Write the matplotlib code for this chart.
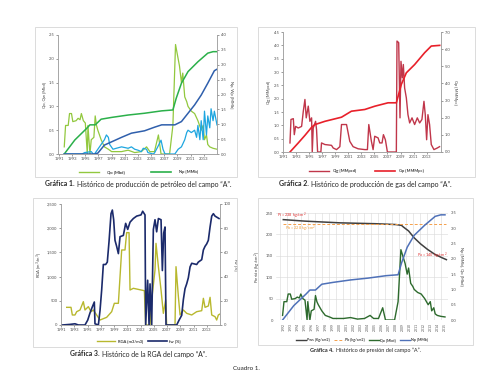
import numpy as np
import matplotlib
matplotlib.use("Agg")
from matplotlib import pyplot as plt
from matplotlib.patches import Rectangle
from matplotlib.lines import Line2D

plt.rcParams['font.family'] = ['Lato', 'DejaVu Sans']

# ---- Grafica 1: produccion de petroleo ----
qo_t = [1991.8, 1992.0, 1992.4, 1992.6, 1992.9, 1993.1, 1993.6, 1993.9, 1994.2, 1994.4,
        1994.7, 1995.0, 1995.3, 1995.4, 1995.7, 1995.9, 1996.3, 1996.5, 1996.7, 1996.9,
        1997.4, 1997.9, 1998.5, 1999.0, 2000.5, 2001.5, 2002.5, 2003.5, 2004.3, 2004.8,
        2005.5, 2006.1, 2006.5, 2007.8, 2008.3, 2008.7, 2009.1, 2009.3, 2009.6, 2009.8,
        2010.1, 2010.4, 2010.6, 2011.1, 2011.6, 2012.1, 2012.6, 2012.9, 2013.1, 2013.4,
        2013.6, 2013.9, 2014.4, 2015.0]
qo = [0.15, 0.6, 0.6, 0.85, 0.85, 0.68, 0.7, 0.75, 0.72, 0.85,
      0.7, 0.65, 0.0, 0.6, 0.0, 0.3, 0.35, 0.8, 0.6, 0.5,
      0.3, 0.15, 0.1, 0.05, 0.05, 0.08, 0.03, 0.05, 0.15, 0.05,
      0.05, 0.4, 0.0, 0.0, 0.6, 2.3, 2.0, 1.85, 1.5, 1.7,
      1.2, 1.1, 1.0, 0.9, 0.85, 0.7, 0.5, 0.6, 0.3, 0.4,
      0.2, 0.15, 0.12, 0.1]

qw_t = [1991.8, 1994.5, 1994.9, 1995.9, 1996.2, 1996.4, 1996.9, 1997.4, 1997.9, 1998.2,
        1998.5, 1998.7, 1999.2, 1999.7, 2000.5, 2001.5, 2002.0, 2002.5, 2003.0, 2003.5,
        2003.8, 2004.3, 2004.5, 2005.3, 2005.5, 2006.0, 2006.5, 2006.8, 2007.1, 2008.6,
        2009.1, 2009.6, 2010.1, 2010.4, 2010.6, 2011.1, 2011.6, 2011.9, 2012.1, 2012.4,
        2012.6, 2012.9, 2013.1, 2013.4, 2013.6, 2013.9, 2014.1, 2014.4, 2014.6, 2015.0]
qw = [0.0, 0.0, 0.03, 0.05, 0.0, 0.0, 0.1, 0.2, 0.3, 0.4,
      0.35, 0.2, 0.1, 0.12, 0.15, 0.12, 0.15, 0.1, 0.08, 0.05,
      0.12, 0.1, 0.03, 0.0, 0.02, 0.15, 0.29, 0.1, 0.0, 0.0,
      0.1, 0.15, 0.3, 0.45, 0.5, 0.45, 0.5, 0.35, 0.6, 0.3,
      0.7, 0.3, 0.9, 0.4, 0.8, 0.55, 0.95, 0.7, 0.9, 0.61]

np_t = [1991.8, 1993.4, 1995.2, 1995.7, 1996.5, 1997.4, 1999.0, 2001.5, 2004.0, 2006.6,
        2008.3, 2008.8, 2009.6, 2010.6, 2012.1, 2013.6, 2014.4, 2015.0]
np_v = [0.0, 0.47, 0.86, 0.98, 0.98, 1.17, 1.23, 1.31, 1.37, 1.45,
        1.48, 1.87, 2.38, 2.77, 3.1, 3.39, 3.44, 3.44]

wp_t = [1991.8, 1996.4, 1996.9, 1997.9, 1999.0, 2000.5, 2002.0, 2004.0, 2005.5, 2006.6,
        2008.6, 2009.6, 2010.6, 2011.6, 2012.6, 2013.6, 2014.6, 2015.0]
wp = [0.0, 0.0, 0.03, 0.3, 0.41, 0.56, 0.7, 0.78, 0.9, 0.98,
      0.98, 1.09, 1.37, 1.65, 1.98, 2.38, 2.8, 2.85]

# ---- Grafica 2: produccion de gas ----
qg_t = [1992.07, 1992.22, 1992.58, 1992.73, 1992.93, 1993.34, 1993.85, 1994.11, 1994.36, 1994.56,
        1994.87, 1995.12, 1995.38, 1995.48, 1995.63, 1995.99, 1996.14, 1996.30, 1996.80, 1996.90,
        1997.42, 1998.43, 1998.69, 1999.20, 1999.71, 1999.96, 2000.73, 2001.23, 2001.74, 2002.51,
        2003.53, 2003.93, 2004.14, 2004.54, 2004.80, 2005.05, 2005.56, 2005.82, 2006.17, 2006.38,
        2006.68, 2006.99, 2008.36, 2008.46, 2008.72, 2008.92, 2009.07, 2009.28, 2009.43, 2009.63,
        2009.89, 2010.14, 2010.40, 2010.76, 2011.16, 2011.57, 2011.93, 2012.28, 2012.59, 2012.79,
        2013.00, 2013.20, 2013.45, 2013.71, 2014.12, 2014.63, 2014.98]
qg = [0.34, 1.22, 1.25, 0.65, 0.96, 0.9, 0.96, 1.53, 1.97, 1.28,
      1.72, 1.15, 1.28, 0.0, 0.9, 1.15, 0.84, 0.0, 0.0, 0.34,
      0.28, 0.25, 0.15, 0.09, 0.2, 1.03, 1.03, 0.4, 0.2, 0.12,
      0.09, 0.09, 1.03, 0.4, 0.09, 0.59, 0.53, 0.34, 0.34, 0.65,
      0.46, 0.0, 0.0, 4.16, 4.1, 1.28, 3.4, 2.78, 3.28, 2.4,
      2.03, 1.4, 1.09, 1.28, 1.03, 1.28, 1.09, 1.22, 1.9, 1.4,
      0.46, 1.4, 1.03, 0.28, 0.09, 0.15, 0.2]

gp_t = [1992.07, 1993.34, 1994.36, 1995.38, 1995.89, 1997.42, 1999.96, 2001.48, 2003.53, 2005.05,
        2007.09, 2008.36, 2009.12, 2009.89, 2011.16, 2012.69, 2013.71, 2015.0]
gp = [0.0, 0.53, 0.97, 1.44, 1.6, 1.79, 2.03, 2.38, 2.48, 2.67,
      2.87, 2.87, 3.94, 4.62, 5.1, 5.79, 6.18, 6.22]

# ---- Grafica 3: RGA y fw ----
rga_t = [1991.86, 1992.51, 1992.71, 1993.11, 1993.37, 1993.87, 1994.37, 1994.62, 1995.13, 1995.53,
         1995.88, 1996.38, 1996.89, 1997.14, 1997.89, 1998.65, 1999.05, 1999.66, 2000.16, 2000.66,
         2000.91, 2001.27, 2001.42, 2001.92, 2003.58, 2003.78, 2004.44, 2004.69, 2005.19, 2005.34,
         2005.70, 2006.10, 2006.45, 2006.80, 2006.95, 2008.21, 2008.36, 2008.72, 2008.97, 2009.47,
         2009.97, 2010.73, 2011.48, 2012.24, 2012.49, 2012.74, 2013.24, 2013.50, 2013.75, 2014.25,
         2014.50, 2014.75, 2015.0]
rga = [365, 365, 207, 207, 275, 310, 482, 310, 379, 275,
       310, 207, 103, 117, 158, 275, 448, 448, 1550, 1550,
       1908, 1908, 723, 758, 709, 0, 0, 517, 1136, 1687,
       1205, 723, 241, 517, 0, 0, 1205, 585, 207, 310,
       241, 207, 275, 296, 551, 365, 393, 572, 207, 172,
       103, 207, 227]

fw_t = [1991.2, 1992.36, 1993.11, 1993.62, 1994.62, 1995.03, 1995.38, 1995.73, 1996.03, 1996.13,
        1996.64, 1996.89, 1997.14, 1997.39, 1997.74, 1997.99, 1998.25, 1998.55, 1998.75, 1998.95,
        1999.15, 1999.40, 1999.66, 1999.91, 2000.41, 2000.76, 2001.07, 2001.42, 2001.92, 2002.42,
        2003.08, 2003.33, 2003.68, 2003.78, 2004.08, 2004.29, 2004.44, 2004.69, 2004.94, 2005.19,
        2005.44, 2005.70, 2006.10, 2006.30, 2006.50, 2006.70, 2006.85, 2008.46, 2008.82, 2009.22,
        2009.47, 2009.72, 2009.97, 2010.22, 2010.48, 2010.73, 2011.48, 2011.73, 2012.24, 2012.49,
        2012.74, 2012.99, 2013.24, 2013.50, 2013.75, 2014.00, 2014.25, 2014.85]
fw = [0, 0.5, 1, 0, 0, 4, 10, 15, 19, 1,
      0, 12, 29, 50, 50, 52, 69, 92, 95, 87,
      70, 65, 59, 73, 74, 84, 79, 85, 88, 90,
      91, 94, 91, 0, 37, 0, 34, 0, 79, 87,
      77, 88, 87, 45, 76, 81, 0, 0, 4, 8,
      21, 30, 34, 39, 48, 51, 50, 52, 54, 62,
      65, 67, 70, 81, 90, 92, 90, 88]

# ---- Grafica 4: presion ----
pws_t = [1991.9, 1995.0, 2000.0, 2005.0, 2008.0, 2008.8, 2009.0, 2009.8, 2010.6, 2011.5,
         2012.5, 2013.5, 2014.5, 2015.2]
pws = [234.5, 231, 227, 225, 223, 221, 218, 208, 192, 178,
       165, 154, 146, 141]
pb_t = [1991.9, 2015.2]
pb = [225, 225]

W, H = 480, 371
fig = plt.figure(figsize=(4.8, 3.71), dpi=100)


def box(l, r, t, b):
    return [l / W, 1 - b / H, (r - l) / W, (b - t) / H]


def fy(y):
    return 1 - y / H


for l, r, t, b in [(35, 237, 27, 177), (258, 475, 27, 177), (33, 237, 198, 347), (258, 473, 198, 345)]:
    fig.patches.append(Rectangle((l / W, fy(b)), (r - l) / W, (b - t) / H, transform=fig.transFigure,
                                 fill=False, ec='#d6d6d6', lw=0.6))

TS = 3.0


def style(ax, axr):
    for a in (ax, axr):
        a.spines['top'].set_visible(False)
        for s in ('left', 'right', 'bottom'):
            a.spines[s].set_color('#a0a0a0')
            a.spines[s].set_linewidth(0.5)
        a.tick_params(labelsize=TS, length=1.5, width=0.4, pad=1, colors='#505050')
    ax.set_xticks(range(1991, 2014, 2))


# chart 1
ax1 = fig.add_axes(box(58, 217, 35, 154))
ax1r = ax1.twinx()
ax1.plot(qo_t, qo, color='#92c83e', lw=0.9)
ax1.plot(qw_t, qw, color='#1ea6e0', lw=0.9)
ax1r.plot(np_t, np_v, color='#2bb04a', lw=1.1)
ax1r.plot(wp_t, wp, color='#2f5fac', lw=1.1)
ax1.set_xlim(1990.85, 2015)
ax1.set_ylim(0, 2.5)
ax1r.set_ylim(0, 4.0)
ax1.set_yticks(np.arange(0, 2.51, 0.5))
ax1r.set_yticks(np.arange(0, 4.01, 0.5))
ax1.set_yticklabels(['%.1f' % v for v in np.arange(0, 2.51, 0.5)])
ax1r.set_yticklabels(['%.1f' % v for v in np.arange(0, 4.01, 0.5)])
ax1.set_ylabel('Qo, Qw [Mbd]', fontsize=TS, labelpad=2, color='#404040')
ax1r.set_ylabel('Np, Wp [MMb]', fontsize=TS, labelpad=2, rotation=270, va='bottom', color='#404040')
style(ax1, ax1r)
fig.legend([Line2D([], [], color='#92c83e', lw=1), Line2D([], [], color='#2bb04a', lw=1.2)],
           ['Qo [Mbd]', 'Np [MMb]'], loc='center', bbox_to_anchor=(138.5 / W, fy(172)), ncol=2,
           frameon=False, fontsize=TS, handlelength=4.8, columnspacing=6.5, handletextpad=1.9)

# chart 2
ax2 = fig.add_axes(box(283, 441, 32, 152))
ax2r = ax2.twinx()
ax2.plot(qg_t, qg, color='#c0364a', lw=1.0)
ax2r.plot(gp_t, gp, color='#e8202a', lw=1.2)
ax2.set_xlim(1991.0, 2015.2)
ax2.set_ylim(0, 4.5)
ax2r.set_ylim(0, 7.0)
ax2.set_yticks(np.arange(0, 4.51, 0.5))
ax2r.set_yticks(np.arange(0, 7.01, 1.0))
ax2.set_yticklabels(['%.1f' % v for v in np.arange(0, 4.51, 0.5)])
ax2r.set_yticklabels(['%.1f' % v for v in np.arange(0, 7.01, 1.0)])
ax2.set_ylabel('Qg [MMpcd]', fontsize=TS, labelpad=2, color='#404040')
ax2r.set_ylabel('Gp [MMMpc]', fontsize=TS, labelpad=2, rotation=270, va='bottom', color='#404040')
style(ax2, ax2r)
fig.legend([Line2D([], [], color='#c0364a', lw=1), Line2D([], [], color='#e8202a', lw=1.2)],
           ['Qg [MMpcd]', 'Gp [MMMpc]'], loc='center', bbox_to_anchor=(366.5 / W, fy(171)), ncol=2,
           frameon=False, fontsize=TS, handlelength=4.8, columnspacing=4.3, handletextpad=1.0)

# chart 3
ax3 = fig.add_axes(box(61, 220, 204, 325))
ax3r = ax3.twinx()
ax3.plot(rga_t, rga, color='#b8b82e', lw=1.0)
ax3r.plot(fw_t, fw, color='#1b2a6b', lw=1.2)
ax3.set_xlim(1991.0, 2015.0)
ax3.set_ylim(0, 2500)
ax3r.set_ylim(0, 100)
ax3.set_yticks(range(0, 2501, 500))
ax3.set_yticklabels(['{:,}'.format(v) for v in range(0, 2501, 500)])
ax3r.set_yticks(range(0, 101, 20))
ax3.set_ylabel('RGA [m$^3$/m$^3$]', fontsize=TS, labelpad=2, color='#404040')
ax3r.set_ylabel('fw [%]', fontsize=TS, labelpad=2, rotation=270, va='bottom', color='#404040')
style(ax3, ax3r)
fig.legend([Line2D([], [], color='#b8b82e', lw=1), Line2D([], [], color='#1b2a6b', lw=1.2)],
           ['RGA [m3/m3]', 'fw [%]'], loc='center', bbox_to_anchor=(138.5 / W, fy(341)), ncol=2,
           frameon=False, fontsize=TS, handlelength=4.5, columnspacing=1.2, handletextpad=0.5)

# chart 4
ax4 = fig.add_axes(box(276, 448, 213, 320))
ax4r = ax4.twinx()
ax4.plot(pws_t, pws, color='#404040', lw=1.1)
ax4.plot(pb_t, pb, color='#f5a04a', lw=0.7, ls=(0, (3, 2)))
ax4r.plot(qo_t, qo, color='#2d6a2d', lw=1.0)
ax4r.plot(np_t, np_v, color='#4f71b8', lw=1.1)
ax4.set_xlim(1990.86, 2015.43)
ax4.set_ylim(0, 250)
ax4r.set_ylim(0, 3.5)
years4 = list(range(1992, 2016))
ax4.set_xticks(years4)
ax4.set_xticklabels([str(y) for y in years4], rotation=90)
ax4.set_xticks([y - 0.5 for y in years4], minor=True)
ax4.grid(True, which='minor', axis='x', color='#d9d9d9', lw=0.4)
ax4.grid(True, which='major', axis='y', color='#d9d9d9', lw=0.4)
ax4.set_axisbelow(True)
ax4.set_yticks(range(0, 251, 50))
ax4r.set_yticks(np.arange(0, 3.51, 0.5))
ax4r.set_yticklabels(['%.1f' % v for v in np.arange(0, 3.51, 0.5)])
for a in (ax4, ax4r):
    for s in a.spines.values():
        s.set_visible(False)
    a.tick_params(labelsize=TS, length=0, pad=2, colors='#505050')
ax4.tick_params(axis='x', which='both', length=0, labelsize=2.4)
ax4.set_ylabel('Presión [kg/cm$^2$]', fontsize=TS, labelpad=2, color='#404040')
ax4r.set_ylabel('Np [MMb], Qo [Mbd]', fontsize=TS, labelpad=2, rotation=270, va='bottom', color='#404040')
ax4.text(1991.0, 244, 'Pi = 238 kg/cm$^2$', color='#e03030', fontsize=2.8, va='center')
ax4.text(1992.1, 213, 'Pb = 228 kg/cm$^2$', color='#f0a040', fontsize=2.8, va='center')
ax4.text(2011.0, 149, 'Pa = 140 kg/cm$^2$', color='#e03030', fontsize=2.8, va='center')
fig.legend([Line2D([], [], color='#404040', lw=1), Line2D([], [], color='#f5a04a', lw=0.7, ls=(0, (3, 2))),
            Line2D([], [], color='#2d6a2d', lw=1), Line2D([], [], color='#4f71b8', lw=1)],
           ['Pws [Kg/cm2]', 'Pb [kg/cm2]', 'Qo [Mbd]', 'Np [MMb]'], loc='center',
           bbox_to_anchor=(362 / W, fy(340)), ncol=4, frameon=False, fontsize=2.6,
           handlelength=2.7, columnspacing=1.2, handletextpad=0.3)

# captions
renderer = fig.canvas.get_renderer()


def caption(x, y, num, rest, size):
    t = fig.text(x / W, fy(y), num, weight='bold', fontsize=size, va='center', color='#262626')
    bb = t.get_window_extent(renderer)
    fig.text((bb.x1 + 2.0) / W, fy(y), rest, fontsize=size, va='center', color='#262626')


caption(45, 184, 'Gráfica 1.', 'Histórico de producción de petróleo del campo “A”.', 4.95)
caption(279, 184, 'Gráfica 2.', 'Histórico de producción de gas del campo “A”.', 5.0)
caption(70, 354, 'Gráfica 3.', 'Histórico de la RGA del campo “A”.', 4.95)
caption(310, 350, 'Gráfica 4.', 'Histórico de presión del campo “A”.', 3.95)
fig.text(246 / W, fy(370.5), 'Cuadro 1.', fontsize=4.5, ha='center', va='bottom', color='#262626')

fig.savefig('out.png', dpi=100)
